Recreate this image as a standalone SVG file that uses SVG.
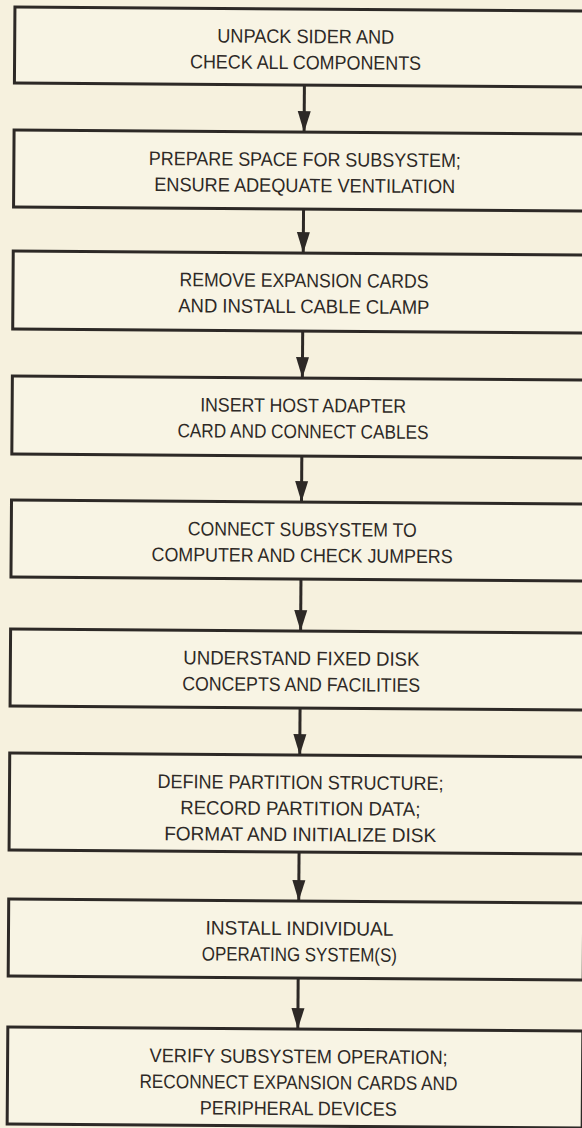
<svg xmlns="http://www.w3.org/2000/svg" width="582" height="1128" viewBox="0 0 582 1128">
<defs>
<style>
.bg{fill:#f6f1de}
.box{fill:#f8f4e4;stroke:#2d2926;stroke-width:3}
.lbl{font-family:"Liberation Sans",Arial,sans-serif;font-size:19.5px;fill:#2d2926;text-anchor:middle}
.conn{stroke:#2d2926;stroke-width:3;fill:none}
</style>
<marker id="ah" markerUnits="userSpaceOnUse" markerWidth="22" markerHeight="14" refX="21" refY="7" orient="auto">
<path d="M0,0.5 L21,7 L0,13.5 z" fill="#2d2926"/>
</marker>
</defs>
<rect class="bg" x="0" y="0" width="582" height="1128"/>
<g transform="rotate(0.4 0 0)">
<g id="connectors">
<line class="conn" x1="305" y1="83" x2="305" y2="130" marker-end="url(#ah)"/>
<line class="conn" x1="305" y1="207" x2="305" y2="251" marker-end="url(#ah)"/>
<line class="conn" x1="305" y1="329" x2="305" y2="376" marker-end="url(#ah)"/>
<line class="conn" x1="305" y1="454" x2="305" y2="500" marker-end="url(#ah)"/>
<line class="conn" x1="305" y1="577" x2="305" y2="629" marker-end="url(#ah)"/>
<line class="conn" x1="305" y1="706" x2="305" y2="753" marker-end="url(#ah)"/>
<line class="conn" x1="305" y1="850" x2="305" y2="899" marker-end="url(#ah)"/>
<line class="conn" x1="305" y1="976" x2="305" y2="1027" marker-end="url(#ah)"/>
</g>
<g id="n1">
<rect class="box" x="15" y="7" width="575" height="76"/>
<text class="lbl" x="306" y="41" textLength="177" lengthAdjust="spacingAndGlyphs">UNPACK SIDER AND</text>
<text class="lbl" x="306" y="67" textLength="231" lengthAdjust="spacingAndGlyphs">CHECK ALL COMPONENTS</text>
</g>
<g id="n2">
<rect class="box" x="15" y="130" width="575" height="77"/>
<text class="lbl" x="306" y="164" textLength="312" lengthAdjust="spacingAndGlyphs">PREPARE SPACE FOR SUBSYSTEM;</text>
<text class="lbl" x="306" y="190" textLength="301" lengthAdjust="spacingAndGlyphs">ENSURE ADEQUATE VENTILATION</text>
</g>
<g id="n3">
<rect class="box" x="15" y="251" width="575" height="78"/>
<text class="lbl" x="306" y="285" textLength="249" lengthAdjust="spacingAndGlyphs">REMOVE EXPANSION CARDS</text>
<text class="lbl" x="306" y="311" textLength="251" lengthAdjust="spacingAndGlyphs">AND INSTALL CABLE CLAMP</text>
</g>
<g id="n4">
<rect class="box" x="15" y="376" width="575" height="78"/>
<text class="lbl" x="306" y="410" textLength="206" lengthAdjust="spacingAndGlyphs">INSERT HOST ADAPTER</text>
<text class="lbl" x="306" y="436" textLength="251" lengthAdjust="spacingAndGlyphs">CARD AND CONNECT CABLES</text>
</g>
<g id="n5">
<rect class="box" x="15" y="500" width="575" height="77"/>
<text class="lbl" x="306" y="534" textLength="229" lengthAdjust="spacingAndGlyphs">CONNECT SUBSYSTEM TO</text>
<text class="lbl" x="306" y="560" textLength="301" lengthAdjust="spacingAndGlyphs">COMPUTER AND CHECK JUMPERS</text>
</g>
<g id="n6">
<rect class="box" x="15" y="629" width="575" height="77"/>
<text class="lbl" x="306" y="663" textLength="236" lengthAdjust="spacingAndGlyphs">UNDERSTAND FIXED DISK</text>
<text class="lbl" x="306" y="689" textLength="238" lengthAdjust="spacingAndGlyphs">CONCEPTS AND FACILITIES</text>
</g>
<g id="n7">
<rect class="box" x="15" y="753" width="575" height="97"/>
<text class="lbl" x="306" y="787" textLength="286" lengthAdjust="spacingAndGlyphs">DEFINE PARTITION STRUCTURE;</text>
<text class="lbl" x="306" y="813" textLength="240" lengthAdjust="spacingAndGlyphs">RECORD PARTITION DATA;</text>
<text class="lbl" x="306" y="839" textLength="272" lengthAdjust="spacingAndGlyphs">FORMAT AND INITIALIZE DISK</text>
</g>
<g id="n8">
<rect class="box" x="15" y="899" width="575" height="77"/>
<text class="lbl" x="306" y="933" textLength="188" lengthAdjust="spacingAndGlyphs">INSTALL INDIVIDUAL</text>
<text class="lbl" x="306" y="959" textLength="195" lengthAdjust="spacingAndGlyphs">OPERATING SYSTEM(S)</text>
</g>
<g id="n9">
<rect class="box" x="15" y="1027" width="575" height="97"/>
<text class="lbl" x="306" y="1061" textLength="298" lengthAdjust="spacingAndGlyphs">VERIFY SUBSYSTEM OPERATION;</text>
<text class="lbl" x="306" y="1087" textLength="318" lengthAdjust="spacingAndGlyphs">RECONNECT EXPANSION CARDS AND</text>
<text class="lbl" x="306" y="1113" textLength="197" lengthAdjust="spacingAndGlyphs">PERIPHERAL DEVICES</text>
</g>
</g>
</svg>
